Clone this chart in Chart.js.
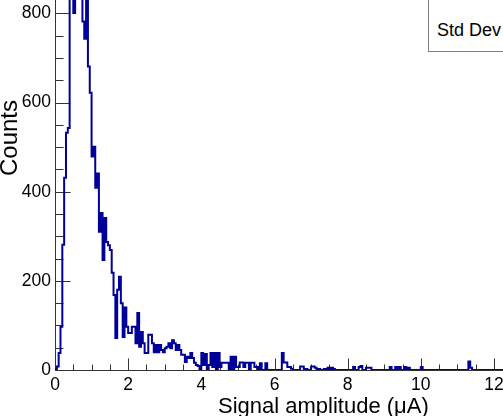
<!DOCTYPE html>
<html>
<head>
<meta charset="utf-8">
<script src="https://cdn.jsdelivr.net/npm/chart.js@4.4.1/dist/chart.umd.min.js"></script>
<style>
  html, body { margin: 0; padding: 0; background: #fff; overflow: hidden; }
  #wrap { position: relative; width: 503px; height: 416px; }
  #stats { position: absolute; left: 428px; top: -2px; width: 90px; height: 52px;
           border: 1px solid #808080; background: #fff;
           font: 18px "Liberation Sans", Arial, sans-serif; color: #000; }
  #stats span { position: absolute; left: 8px; top: 21px; white-space: nowrap; }
</style>
</head>
<body>
<div id="wrap">
  <canvas id="chart" width="503" height="416"></canvas>
  <div id="stats"><span>Std Dev</span></div>
</div>
<script>
/** HISTOGRAM DATA (bin width 0.05 uA, first bin starts at 0) */
const binWidth = 0.05;
const counts = [
    2, 8, 38, 97, 281, 431, 532, 543, 880, 930,
    801, 960, 990, 950, 910, 782, 743, 850, 681, 622,
    479, 501, 409, 441, 310, 352, 247, 341, 287, 280,
    269, 218, 168, 72, 180, 209, 150, 74, 140, 97,
    83, 83, 97, 97, 60, 128, 52, 85, 60, 38,
    38, 79, 79, 60, 40, 56, 40, 56, 45, 40,
    49, 52, 60, 49, 67, 60, 45, 56, 45, 34,
    34, 18, 30, 27, 38, 27, 16, 11, 9, 0,
    38, 11, 36, 0, 11, 38, 7, 38, 0, 38,
    7, 16, 16, 16, 16, 0, 30, 0, 30, 7,
    7, 17, 17, 7, 16, 16, 0, 16, 16, 7,
    7, 0, 15, 0, 0, 15, 0, 0, 0, 0,
    0, 0, 0, 0, 38, 17, 17, 7, 7, 3,
    0, 0, 0, 0, 8, 8, 2, 2, 0, 0,
    8, 8, 5, 0, 2, 0, 0, 2, 0, 5,
    0, 5, 2, 0, 0, 0, 0, 0, 0, 0,
    0, 0, 0, 7, 0, 0, 7, 9, 0, 0,
    5, 5, 5, 0, 0, 0, 0, 0, 0, 0,
    0, 0, 0, 7, 0, 0, 7, 0, 7, 0,
    0, 7, 0, 5, 0, 0, 0, 0, 0, 0,
    7, 0, 0, 0, 0, 0, 0, 0, 0, 0,
    0, 0, 0, 0, 0, 0, 0, 0, 0, 0,
    0, 0, 0, 0, 0, 0, 19, 5, 0, 0,
    0, 0, 0, 0, 0, 0, 0, 0, 0, 0,
    0, 0, 0, 0, 0, 0, 0, 0, 0, 0
];

/** AXES */
const xRange = [0, 12.246];
const yRange = [0, 830];
const xMajorTicks = [0, 2, 4, 6, 8, 10, 12];
const yMajorTicks = [0, 200, 400, 600, 800];
const xMinorStep = 0.5;
const yMinorStep = 50;
const xTitle = 'Signal amplitude (\u03bcA)';
const yTitle = 'Counts';

const FONT = '"Liberation Sans", Arial, sans-serif';

// histogram as step line: each point is the low edge of a bin
function makePoints() {
    const pts = counts.map((c, i) => ({ x: i * binWidth, y: c }));
    pts.push({ x: counts.length * binWidth, y: counts[counts.length - 1] });
    return pts;
}

// pin the frame: y axis 55px wide, x axis 46px high, no label overflow padding
function pinSize(size) {
    return function (scale) {
        if (scale.isHorizontal()) scale.height = size;
        else scale.width = size;
        scale.paddingLeft = 0;
        scale.paddingRight = 0;
        scale.paddingTop = 0;
        scale.paddingBottom = 0;
    };
}

function fixedTicks(values) {
    return function (scale) {
        scale.ticks = values.map(v => ({ value: v }));
    };
}

/** ROOT-like frame: inner tick marks + axis titles */
const rootFrame = {
    id: 'rootFrame',
    beforeDatasetsDraw(chart) {
        const { ctx, chartArea: a, scales: { x, y } } = chart;
        ctx.save();
        ctx.strokeStyle = '#333';
        ctx.lineWidth = 1;
        ctx.beginPath();
        const ax = Math.round(a.left) + 0.5;
        const ay = Math.round(a.bottom) + 0.5;
        ctx.moveTo(ax, a.top);
        ctx.lineTo(ax, ay);
        ctx.lineTo(a.right, ay);

        // y ticks (pointing right)
        for (let v = yRange[0]; v <= yRange[1]; v += yMinorStep) {
            const py = Math.round(y.getPixelForValue(v)) + 0.5;
            const len = yMajorTicks.includes(v) ? 15 : 8;
            ctx.moveTo(ax, py);
            ctx.lineTo(ax + len, py);
        }
        // x ticks (pointing up)
        for (let k = 0; k * xMinorStep <= xRange[1]; k++) {
            const v = k * xMinorStep;
            const px = Math.round(x.getPixelForValue(v)) + 0.5;
            const len = xMajorTicks.includes(v) ? 12 : 6;
            ctx.moveTo(px, ay);
            ctx.lineTo(px, ay - len);
        }
        ctx.stroke();
        ctx.restore();
    },
    afterDraw(chart) {
        const { ctx } = chart;
        ctx.save();
        ctx.fillStyle = '#000';
        ctx.textBaseline = 'alphabetic';
        ctx.font = '22px ' + FONT;
        ctx.textAlign = 'left';
        ctx.fillText(xTitle, 218, 413);

        ctx.font = '24px ' + FONT;
        ctx.translate(17, 138);
        ctx.rotate(-Math.PI / 2);
        ctx.textAlign = 'center';
        ctx.fillText(yTitle, 0, 0);
        ctx.restore();
    }
};

new Chart(document.getElementById('chart'), {
    type: 'line',
    data: {
        datasets: [{
            data: makePoints(),
            stepped: true,
            borderColor: '#000099',
            borderWidth: 2,
            pointRadius: 0,
            fill: false,
            tension: 0
        }]
    },
    options: {
        responsive: false,
        animation: false,
        layout: { padding: 0 },
        plugins: { legend: { display: false }, tooltip: { enabled: false } },
        scales: {
            x: {
                type: 'linear',
                min: xRange[0],
                max: xRange[1],
                afterFit: pinSize(46),
                afterBuildTicks: fixedTicks(xMajorTicks),
                grid: { display: false, drawTicks: false },
                border: { display: false },
                ticks: {
                    maxRotation: 0,
                    autoSkip: false,
                    padding: 5,
                    color: '#000',
                    font: { family: FONT, size: 17.5 }
                }
            },
            y: {
                type: 'linear',
                min: yRange[0],
                max: yRange[1],
                afterFit: pinSize(55),
                afterBuildTicks: fixedTicks(yMajorTicks),
                grid: { display: false, drawTicks: false },
                border: { display: false },
                ticks: {
                    autoSkip: false,
                    padding: 4,
                    color: '#000',
                    font: { family: FONT, size: 17.5 }
                }
            }
        }
    },
    plugins: [rootFrame]
});
</script>
</body>
</html>
